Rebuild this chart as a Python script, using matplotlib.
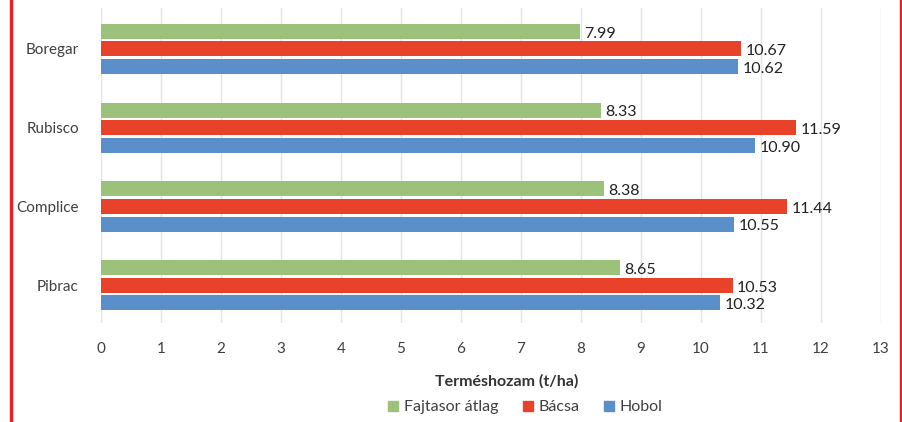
import numpy as np
import matplotlib
matplotlib.use("Agg")
import matplotlib.pyplot as plt
from matplotlib.lines import Line2D

plt.rcParams['font.family'] = ['Lato', 'DejaVu Sans']

# data
varieties = ['Pibrac', 'Complice', 'Rubisco', 'Boregar']
series = ['Fajtasor átlag', 'Bácsa', 'Hobol']
atlag = [8.65, 8.38, 8.33, 7.99]
bacsa = [10.53, 11.44, 11.59, 10.67]
hobol = [10.32, 10.55, 10.90, 10.62]
colors = ['#9cc17a', '#e8432a', '#5b8fca']

fig = plt.figure(figsize=(9.03, 4.22), dpi=100)
ax = fig.add_axes([101 / 903, 1 - 323 / 422, 780 / 903, 315 / 422])

y = np.arange(len(varieties))
pitch = 0.224
h = 0.19
for k, (vals, col) in enumerate(zip([atlag, bacsa, hobol], colors)):
    pos = y + (1 - k) * pitch
    ax.barh(pos, vals, height=h, color=col, zorder=3)
    for p, v in zip(pos, vals):
        ax.text(v + 0.07, p - 0.03, f'{v:.2f}', va='center', ha='left',
                fontsize=11.5, color='#222222')

ax.set_xlim(0, 13)
ax.set_ylim(-0.48, 3.52)
ax.set_xticks(range(0, 14))
ax.set_yticks(y)
ax.set_yticklabels(varieties)
ax.tick_params(axis='both', length=0, labelsize=11, colors='#404040')
ax.tick_params(axis='y', pad=16)
ax.tick_params(axis='x', pad=14)
ax.grid(axis='x', color='#e4e4e4', linewidth=1, zorder=0)
for s in ax.spines.values():
    s.set_visible(False)

fig.text(507 / 903, 1 - 381 / 422, 'Terméshozam (t/ha)', ha='center', va='center',
         fontsize=11.5, fontweight='bold', color='#333333')

handles = [Line2D([], [], marker='s', linestyle='none', markersize=7,
                  markerfacecolor=c, markeredgecolor=c) for c in colors]
fig.legend(handles, series, loc='center', bbox_to_anchor=(525 / 903, 1 - 407 / 422),
           ncol=3, frameon=False, fontsize=11.5, handlelength=0.7, handletextpad=0.3,
           columnspacing=1.5, labelcolor='#404040')

# red frame lines at left and right
for xp in (11.5 / 903, 901.5 / 903):
    fig.add_artist(Line2D([xp, xp], [0, 1], color='#ee1c25', linewidth=2.4,
                          transform=fig.transFigure))

fig.savefig('out.png', dpi=100)
